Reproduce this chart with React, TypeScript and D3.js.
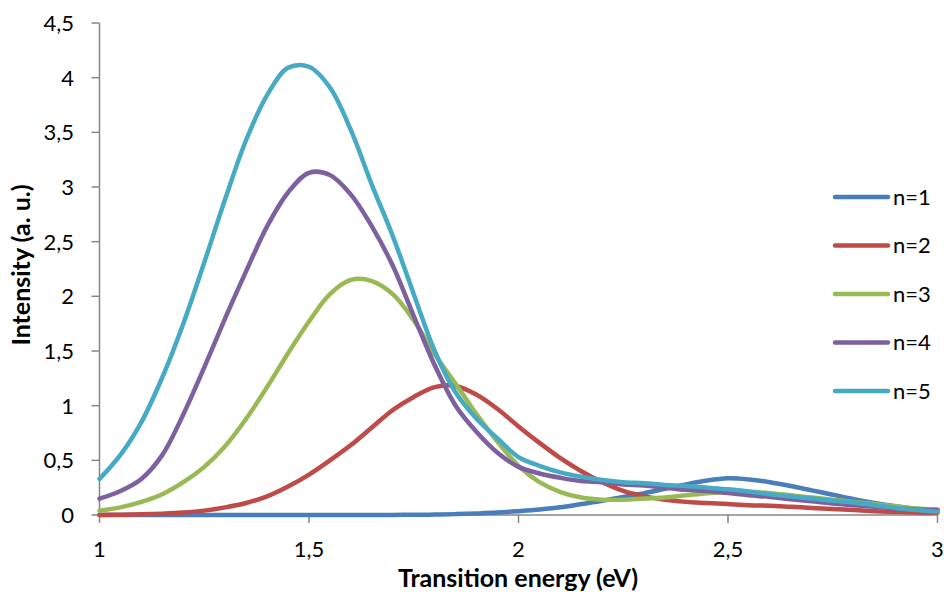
import React from "react";
import * as d3 from "d3";

const xValues = [
  1.0, 1.05, 1.1, 1.15, 1.2, 1.25, 1.3, 1.35, 1.4, 1.45, 1.5, 1.55, 1.6, 1.65, 1.7, 1.75, 1.8, 1.85, 1.9, 1.95,
  2.0, 2.05, 2.1, 2.15, 2.2, 2.25, 2.3, 2.35, 2.4, 2.45, 2.5, 2.55, 2.6, 2.65, 2.7, 2.75, 2.8, 2.85, 2.9, 2.95, 3.0,
];

const n1 = [
  0, 0, 0, 0, 0, 0, 0, 0, 0, 0, 0, 0, 0, 0, 0.001, 0.002, 0.004, 0.008, 0.014, 0.022,
  0.035, 0.05, 0.07, 0.1, 0.13, 0.165, 0.2, 0.24, 0.28, 0.315, 0.335, 0.325, 0.3, 0.265, 0.225, 0.185, 0.145, 0.11, 0.08, 0.055, 0.04,
];
const n2 = [
  0.0, 0.003, 0.006, 0.012, 0.022, 0.04, 0.07, 0.11, 0.17, 0.26, 0.37, 0.5, 0.64, 0.8, 0.96, 1.08, 1.17, 1.18, 1.1, 0.97,
  0.81, 0.66, 0.52, 0.4, 0.3, 0.22, 0.17, 0.14, 0.12, 0.11, 0.1, 0.09, 0.085, 0.075, 0.065, 0.055, 0.045, 0.035, 0.028, 0.022, 0.02,
];
const n3 = [
  0.04, 0.07, 0.12, 0.19, 0.3, 0.44, 0.63, 0.88, 1.17, 1.48, 1.77, 2.02, 2.15, 2.14, 2.02, 1.78, 1.47, 1.2, 0.92, 0.67,
  0.45, 0.3, 0.21, 0.16, 0.14, 0.14, 0.15, 0.16, 0.18, 0.2, 0.21, 0.21, 0.2, 0.18, 0.16, 0.14, 0.12, 0.1, 0.08, 0.06, 0.05,
];
const n4 = [
  0.15, 0.22, 0.33, 0.55, 0.92, 1.35, 1.8, 2.23, 2.64, 2.95, 3.13, 3.11, 2.93, 2.64, 2.28, 1.82, 1.37, 1.0, 0.76, 0.57,
  0.44, 0.38, 0.34, 0.31, 0.3, 0.28, 0.27, 0.25, 0.23, 0.22, 0.2, 0.18, 0.165, 0.145, 0.125, 0.105, 0.09, 0.075, 0.06, 0.05, 0.045,
];
const n5 = [
  0.33, 0.55, 0.85, 1.26, 1.75, 2.31, 2.89, 3.43, 3.84, 4.09, 4.1, 3.91, 3.52, 3.02, 2.55, 2.02, 1.5, 1.12, 0.88, 0.7,
  0.53, 0.45, 0.39, 0.35, 0.32, 0.3, 0.29, 0.275, 0.265, 0.25, 0.235, 0.215, 0.19, 0.17, 0.15, 0.13, 0.115, 0.09, 0.065, 0.045, 0.03,
];

const seriesNames = ["n=1", "n=2", "n=3", "n=4", "n=5"];
const seriesValues = [n1, n2, n3, n4, n5];
const colors = ["#4A7EBB", "#BE4B48", "#98B954", "#7D60A0", "#46AAC5"];

const xTicks = [1, 1.5, 2, 2.5, 3];
const yTicks = [0, 0.5, 1, 1.5, 2, 2.5, 3, 3.5, 4, 4.5];

const xTitle = "Transition energy (eV)";
const yTitle = "Intensity (a. u.)";

const W = 944;
const H = 592;
const plot = { left: 99.5, right: 937.5, top: 23, bottom: 515 };

const fmt = (v: number) => String(v).replace(".", ",");
const FONT = "Lato, 'Open Sans', sans-serif";

export default function App() {
  const x = d3.scaleLinear().domain([1, 3]).range([plot.left, plot.right]);
  const y = d3.scaleLinear().domain([0, 4.5]).range([plot.bottom, plot.top]);
  const line = d3
    .line<number>()
    .x((_, i) => x(xValues[i]))
    .y((d) => y(Math.max(0, d)))
    .curve(d3.curveCatmullRom.alpha(0.5));

  const axisColor = "#868686";
  const legendY0 = 197;
  const legendStep = 48.5;

  return (
    <svg
      width={W}
      height={H}
      style={{ position: "absolute", left: 0, top: 0, background: "#fff" }}
      fontFamily={FONT}
    >
      <rect width={W} height={H} fill="#fff" />
      <line x1={plot.left} x2={plot.left} y1={plot.top} y2={plot.bottom} stroke={axisColor} strokeWidth={1.5} />
      <line x1={plot.left} x2={plot.right} y1={plot.bottom} y2={plot.bottom} stroke={axisColor} strokeWidth={1.5} />
      {yTicks.map((t) => (
        <g key={"y" + t}>
          <line x1={plot.left - 8} x2={plot.left} y1={y(t)} y2={y(t)} stroke={axisColor} strokeWidth={1.5} />
          <text x={74} y={y(t)} dy="0.36em" textAnchor="end" fontSize={22} fill="#000">
            {fmt(t)}
          </text>
        </g>
      ))}
      {xTicks.map((t) => (
        <g key={"x" + t}>
          <line x1={x(t)} x2={x(t)} y1={plot.bottom} y2={plot.bottom + 8} stroke={axisColor} strokeWidth={1.5} />
          <text x={x(t)} y={549} dy="0.36em" textAnchor="middle" fontSize={22} fill="#000">
            {fmt(t)}
          </text>
        </g>
      ))}
      {seriesValues.map((vals, i) => (
        <path
          key={seriesNames[i]}
          d={line(vals) || ""}
          fill="none"
          stroke={colors[i]}
          strokeWidth={4.5}
          strokeLinejoin="round"
          strokeLinecap="round"
        />
      ))}
      <text x={518} y={578} dy="0.36em" textAnchor="middle" fontSize={25} fontWeight="bold" fill="#000">
        {xTitle}
      </text>
      <text
        transform={`translate(21,265) rotate(-90)`}
        dy="0.36em"
        textAnchor="middle"
        fontSize={25}
        fontWeight="bold"
        fill="#000"
      >
        {yTitle}
      </text>
      {seriesNames.map((name, i) => (
        <g key={"leg" + name} transform={`translate(0,${legendY0 + i * legendStep})`}>
          <line x1={835} x2={888} y1={0} y2={0} stroke={colors[i]} strokeWidth={4.5} strokeLinecap="round" />
          <text x={893} y={0} dy="0.36em" fontSize={22} fill="#000">
            {name}
          </text>
        </g>
      ))}
    </svg>
  );
}
